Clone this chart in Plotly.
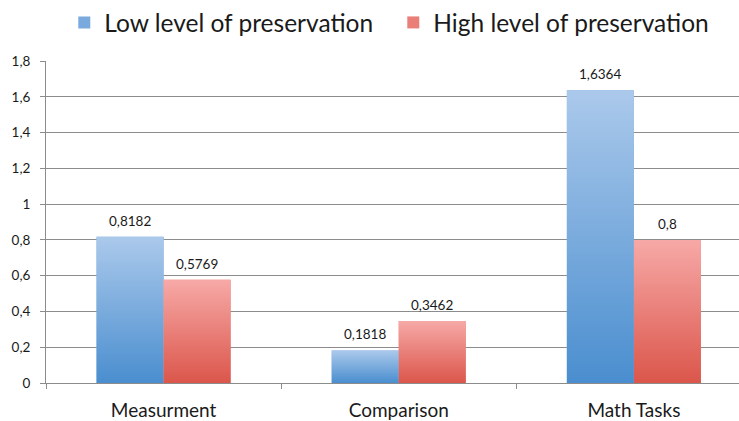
import plotly.graph_objects as go

# Data
categories = ["Measurment", "Comparison", "Math Tasks"]
series_names = ["Low level of preservation", "High level of preservation"]
low_values = [0.8182, 0.1818, 1.6364]
high_values = [0.5769, 0.3462, 0.8]
y_ticks = [0, 0.2, 0.4, 0.6, 0.8, 1, 1.2, 1.4, 1.6, 1.8]

# Styling
FONT = "Lato"
TEXT_COLOR = "#1a1a1a"
GRID_COLOR = "#8c8c8c"
BAR_W = 0.285
colors_top = ["#abc9eb", "#f7a9a7"]
colors_bottom = ["#4a8ecf", "#db564b"]
colors_mid = ["#7aaadd", "#ea7f78"]

x_pos = list(range(len(categories)))
all_series = [low_values, high_values]

fig = go.Figure()

for i, (name, vals) in enumerate(zip(series_names, all_series)):
    offset = (i - 1) * BAR_W
    fig.add_trace(go.Bar(
        x=x_pos, y=vals, name=name, width=BAR_W, offset=offset,
        marker=dict(color=colors_mid[i], line=dict(width=0)),
        showlegend=True,
    ))

# Vertical gradient fills laid over each bar
for i, vals in enumerate(all_series):
    offset = (i - 1) * BAR_W
    for xc, v in zip(x_pos, vals):
        x0, x1 = xc + offset, xc + offset + BAR_W
        fig.add_trace(go.Scatter(
            x=[x0, x1, x1, x0, x0], y=[0, 0, v, v, 0],
            mode="lines", line=dict(width=0), fill="toself",
            fillgradient=dict(type="vertical",
                              colorscale=[[0, colors_bottom[i]], [1, colors_top[i]]]),
            hoverinfo="skip", showlegend=False,
        ))

# Value labels above bars
for i, vals in enumerate(all_series):
    offset = (i - 1) * BAR_W
    for xc, v in zip(x_pos, vals):
        fig.add_annotation(
            x=xc + offset + BAR_W / 2, y=v, yanchor="bottom", yshift=6,
            text=f"{v:g}".replace(".", ","), showarrow=False,
            font=dict(family=FONT, size=13.5, color=TEXT_COLOR),
        )

fig.update_layout(
    width=739, height=421,
    margin=dict(l=46, r=0, t=61, b=38, autoexpand=False),
    paper_bgcolor="white", plot_bgcolor="white",
    separators=",.",
    barmode="overlay",
    font=dict(family=FONT, color=TEXT_COLOR),
    legend=dict(
        orientation="h", xref="container", yref="container",
        x=0.087, y=1.0, xanchor="left", yanchor="top",
        font=dict(family=FONT, size=24.5, color=TEXT_COLOR),
        itemsizing="constant", traceorder="normal",
        entrywidth=284, entrywidthmode="pixels",
    ),
    xaxis=dict(
        range=[-0.5, 2.447], tickmode="array", tickvals=x_pos, ticktext=categories,
        ticks="", showgrid=False, zeroline=False,
        showline=True, linecolor=GRID_COLOR, linewidth=1,
        tickfont=dict(family=FONT, size=19, color=TEXT_COLOR),
        minor=dict(tickmode="array", tickvals=[-0.5, 0.5, 1.5, 2.5],
                   ticks="outside", ticklen=5, tickcolor=GRID_COLOR, showgrid=False),
        ticklabelstandoff=10,
    ),
    yaxis=dict(
        range=[0, 1.8], tickmode="array", tickvals=y_ticks,
        showgrid=True, gridcolor=GRID_COLOR, gridwidth=1, zeroline=False,
        showline=True, linecolor=GRID_COLOR, linewidth=1,
        ticks="outside", ticklen=5, tickcolor=GRID_COLOR,
        tickfont=dict(family=FONT, size=13.5, color=TEXT_COLOR),
        ticklabelstandoff=7,
    ),
)

fig.write_html("out.html")
